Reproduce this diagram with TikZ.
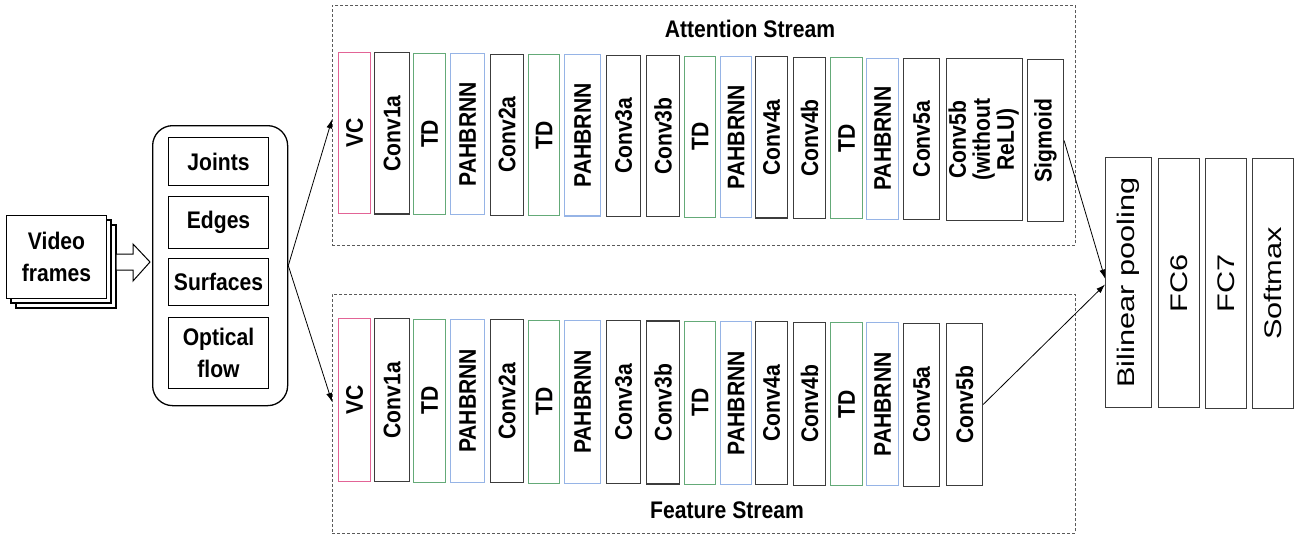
\documentclass[tikz,border=0pt]{standalone}
\usepackage{fontspec}
\usepackage{graphicx}
\usetikzlibrary{arrows.meta}
\newfontfamily\nfont{Liberation Sans}[FakeStretch=0.88]
\newfontfamily\wfont{Liberation Sans}[FakeStretch=1.28]
\definecolor{pk}{RGB}{226,100,150}
\definecolor{gr}{RGB}{100,170,120}
\definecolor{bl}{RGB}{150,180,230}
\definecolor{dk}{RGB}{60,60,60}
\definecolor{dsh}{RGB}{90,90,90}
\begin{document}
\begin{tikzpicture}[x=1pt,y=-1pt,
  lay/.style={draw=#1, line width=1.1pt, fill=white, inner sep=0pt, anchor=north west,
    font=\nfont\fontsize{24}{22}\selectfont\bfseries},
  fc/.style={draw=dk, line width=1.1pt, fill=white, inner sep=0pt, anchor=north west,
    font=\wfont\fontsize{24}{22}\selectfont},
  inbox/.style={draw=black, line width=1.1pt, fill=white, inner sep=0pt, anchor=north west,
    minimum width=100pt, align=center, font=\nfont\fontsize{24}{32}\selectfont\bfseries},
  stream/.style={draw=dsh, line width=0.8pt, dash pattern=on 3pt off 2pt, inner sep=0pt, anchor=north west},
  title/.style={font=\nfont\fontsize{24}{22}\selectfont\bfseries},
  conn/.style={draw=black, line width=0.8pt, -{Latex[length=9pt,width=6pt]}}]
\useasboundingbox (0,0) rectangle (1299,535);

% video frames stack
\draw[line width=1.1pt, fill=white] (16,225) rectangle (116,308);
\draw[line width=1.1pt, fill=white] (11,220) rectangle (111,303);
\node[inbox, minimum width=100pt, minimum height=83pt] (vf) at (6,215) {Video\\frames};

% hollow arrow
\draw[line width=1pt, fill=white] (116,254) -- (133,254) -- (133,244) -- (150,262) -- (133,281) -- (133,270) -- (116,270) -- cycle;

% feature container
\node[draw=black, line width=1.3pt, rounded corners=20pt, anchor=north west, minimum width=135pt, minimum height=280pt, inner sep=0pt] (feat) at (152,125) {};
\node[inbox, minimum height=48pt] (joints) at (168,137) {Joints};
\node[inbox, minimum height=52pt] (edges) at (168,196) {Edges};
\node[inbox, minimum height=47pt] (surf) at (168,258) {Surfaces};
\node[inbox, minimum height=71pt] (opt) at (168,317) {Optical\\flow};

% stream boxes
\node[stream, minimum width=743pt, minimum height=240pt] (att) at (332,5) {};
\node[stream, minimum width=743pt, minimum height=239pt] (fs) at (332,294) {};
\node[title] (attt) at (750,29) {Attention Stream};
\node[title] (fst) at (727,510) {Feature Stream};

\foreach \xa/\xb/\t/\c [count=\i] in {338/370/VC/pk, 374/409/Conv1a/dk, 413/445/TD/gr, 450/484/PAHBRNN/bl, 490/523/Conv2a/dk, 528/559/TD/gr, 564/600/PAHBRNN/bl, 606/640/Conv3a/dk, 646/679/Conv3b/dk, 684/715/TD/gr, 720/751/PAHBRNN/bl, 755/787/Conv4a/dk, 793/825/Conv4b/dk, 830/862/TD/gr, 866/898/PAHBRNN/bl, 903/939/Conv5a/dk}{
  \pgfmathsetmacro\w{\xb-\xa}
  \pgfmathsetmacro\ya{52+0.4*(\i-1)}
  \pgfmathsetmacro\yb{318+0.3*(\i-1)}
  \node[lay=\c, minimum width=\w pt, minimum height=161pt] (a\i) at (\xa,\ya) {\rotatebox{90}{\t}};
  \node[lay=\c, minimum width=\w pt, minimum height=163pt] (f\i) at (\xa,\yb) {\rotatebox{90}{\t}};
}
\node[lay=dk, minimum width=76pt, minimum height=162pt] (a17) at (946,58)
  {\rotatebox{90}{\begin{tabular}{@{}c@{}}Conv5b\\(without\\ReLU)\end{tabular}}};
\node[lay=dk, minimum width=36pt, minimum height=162pt] (sig) at (1027,59) {\rotatebox{90}{Sigmoid}};
\node[lay=dk, minimum width=36pt, minimum height=162pt] (f17) at (946,323) {\rotatebox{90}{Conv5b}};

% right boxes
\node[fc, minimum width=46pt, minimum height=250pt] (bp) at (1105,157) {\rotatebox{90}{Bilinear pooling}};
\node[fc, minimum width=41pt, minimum height=249pt] (fc6) at (1158,158) {\rotatebox{90}{FC6}};
\node[fc, minimum width=41pt, minimum height=250pt] (fc7) at (1205,158) {\rotatebox{90}{FC7}};
\node[fc, minimum width=41pt, minimum height=250pt] (sm) at (1252,158) {\rotatebox{90}{Softmax}};

% connectors
\draw[conn] (feat.east) -- ([yshift=6pt]att.west);
\draw[conn] (feat.east) -- ([yshift=12pt]fs.west);
\draw[conn] (sig.east) -- ([yshift=4pt]bp.west);
\draw[conn] (f17.east) -- ([yshift=-2pt]bp.west);
\end{tikzpicture}
\end{document}
